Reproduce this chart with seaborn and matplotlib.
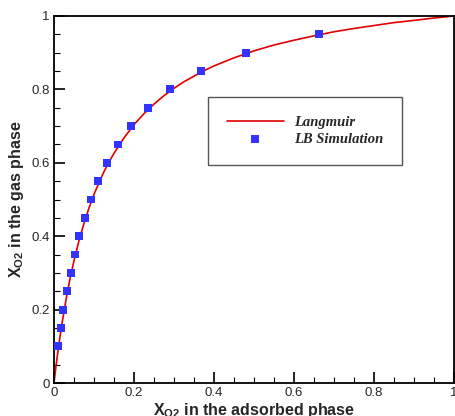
import matplotlib
matplotlib.use("Agg")
import matplotlib.pyplot as plt
import seaborn as sns
import pandas as pd
from matplotlib.ticker import MultipleLocator

sns.set_style("ticks")
plt.rcParams['font.family'] = ['Liberation Sans', 'DejaVu Sans']
plt.rcParams['mathtext.fontset'] = 'custom'
plt.rcParams['mathtext.rm'] = 'Liberation Sans:bold'
plt.rcParams['mathtext.it'] = 'Liberation Sans:bold'
plt.rcParams['mathtext.bf'] = 'Liberation Sans:bold'

# Langmuir curve
curve_x = [0.0, 0.0025, 0.005, 0.01, 0.015, 0.02, 0.03, 0.04, 0.05, 0.0625, 0.075, 0.0875,
           0.1, 0.1125, 0.125, 0.1375, 0.15, 0.175, 0.2, 0.225, 0.25, 0.275, 0.3, 0.325,
           0.35, 0.375, 0.4, 0.45, 0.5, 0.55, 0.6, 0.65, 0.7, 0.75, 0.8, 0.85, 0.9, 0.95, 1.0]
curve_y = [0.0, 0.023, 0.046, 0.088, 0.126, 0.162, 0.227, 0.284, 0.333, 0.388, 0.435, 0.477,
           0.514, 0.546, 0.576, 0.602, 0.626, 0.668, 0.704, 0.734, 0.760, 0.783, 0.803, 0.821,
           0.836, 0.851, 0.864, 0.886, 0.905, 0.921, 0.934, 0.946, 0.957, 0.966, 0.974, 0.982,
           0.988, 0.9945, 1.0]

# LB simulation points
sim_x = [0.011, 0.017, 0.023, 0.032, 0.042, 0.052, 0.063, 0.078, 0.0925, 0.111, 0.1325,
         0.159, 0.1925, 0.235, 0.291, 0.3675, 0.481, 0.6625]
sim_y = [0.10, 0.15, 0.20, 0.25, 0.30, 0.35, 0.40, 0.45, 0.50, 0.55, 0.60,
         0.65, 0.70, 0.75, 0.80, 0.85, 0.90, 0.95]

df_c = pd.DataFrame({"x": curve_x, "y": curve_y})
df_s = pd.DataFrame({"x": sim_x, "y": sim_y})

fig = plt.figure(figsize=(4.56, 4.16), dpi=100)
ax = fig.add_axes([54/456, 33/416, 400/456, 367/416])

sns.lineplot(data=df_c, x="x", y="y", ax=ax, color="#e00000", linewidth=1.2,
             label="Langmuir", sort=False)
sns.scatterplot(data=df_s, x="x", y="y", ax=ax, color="#3333ff", marker="s", s=32,
                edgecolor="none", label="LB Simulation", zorder=3)

ax.set_xlim(0, 1)
ax.set_ylim(0, 1)
ax.xaxis.set_major_locator(MultipleLocator(0.2))
ax.yaxis.set_major_locator(MultipleLocator(0.2))
ax.xaxis.set_minor_locator(MultipleLocator(0.05))
ax.yaxis.set_minor_locator(MultipleLocator(0.05))
fmt = lambda v, p: "0" if abs(v) < 1e-9 else ("1" if abs(v - 1) < 1e-9 else f"{v:.1f}")
ax.xaxis.set_major_formatter(plt.FuncFormatter(fmt))
ax.yaxis.set_major_formatter(plt.FuncFormatter(fmt))
ax.tick_params(which="major", direction="in", length=8, width=1.2, labelsize=9.5,
               top=False, right=False, pad=3, color="black")
ax.tick_params(which="minor", direction="in", length=4, width=0.8,
               top=False, right=False, color="black")
for sp in ax.spines.values():
    sp.set_linewidth(1.3)
    sp.set_color("black")

ax.set_xlabel(r"X$_{O2}$ in the adsorbed phase", fontsize=11.5, fontweight="bold", labelpad=1)
ax.set_ylabel(r"X$_{O2}$ in the gas phase", fontsize=11.5, fontweight="bold", labelpad=4)

leg = ax.legend(loc="upper left", bbox_to_anchor=(0.385, 0.779), frameon=True,
                fancybox=False, edgecolor="#555555", framealpha=1,
                prop={"family": "Liberation Serif", "style": "italic", "weight": "bold", "size": 10.5},
                handlelength=3.9, borderpad=1.3, labelspacing=0.25, handletextpad=0.7,
                borderaxespad=0, markerscale=1)
leg.get_frame().set_linewidth(1.0)

fig.savefig("out.png", dpi=100)
